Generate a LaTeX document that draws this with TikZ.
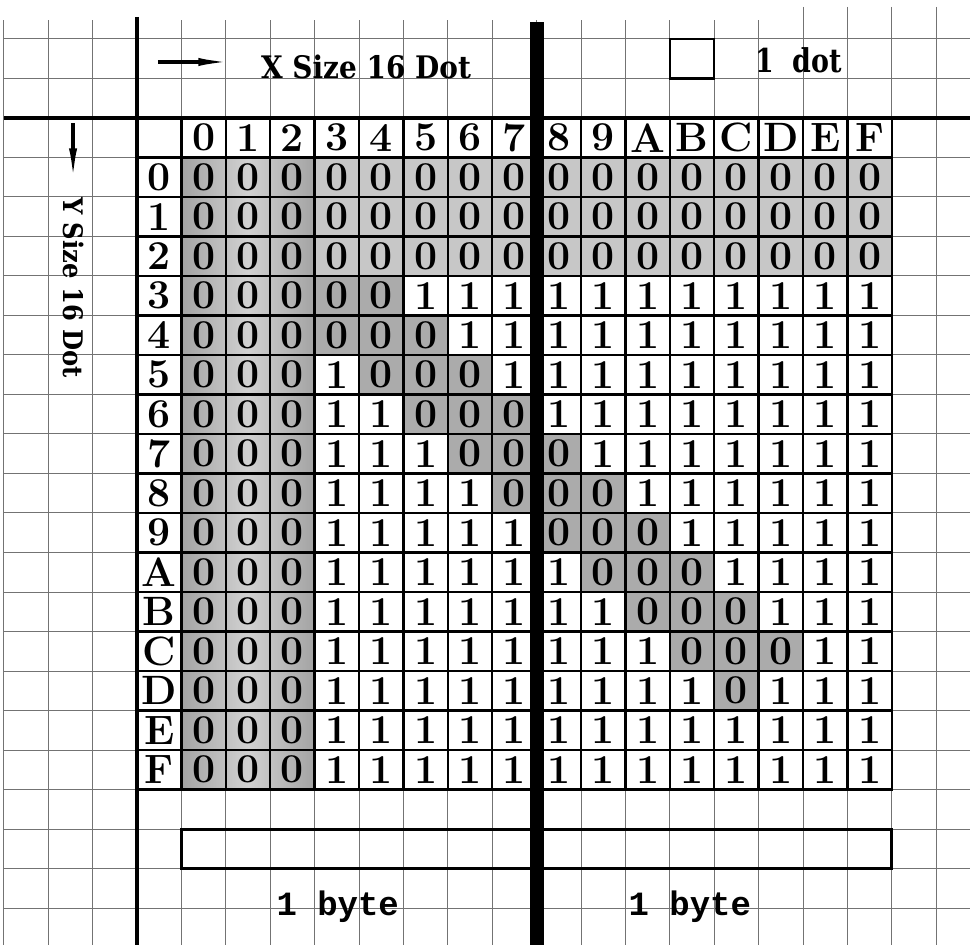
\documentclass[tikz,border=0pt]{standalone}
\usepackage{fontspec}
\usepackage{xcolor}
\usepackage{tikz}
\usetikzlibrary{arrows.meta}

\newfontfamily\slabfont[FakeStretch=0.9]{DejaVu Serif}
\newfontfamily\narrowslab[FakeStretch=0.82]{DejaVu Serif}
\newfontfamily\typefont{Liberation Mono}

\definecolor{gridgray}{gray}{0.45}
\definecolor{zerolight}{gray}{0.78}
\definecolor{zerodark}{gray}{0.67}
\definecolor{shadeedge}{gray}{0.64}
\definecolor{shademid}{gray}{0.82}

\begin{document}
\begin{tikzpicture}[
  x=1.332cm, y=-1.185cm,
  >={Latex[length=1.1cm,width=0.24cm]},
  gridline/.style={draw=gridgray, line width=0.03cm},
  axis/.style={line width=0.11cm},
  cell/.style={
    draw,
    line width=0.075cm,
    minimum width=1.332cm,
    minimum height=1.185cm,
    inner sep=0pt,
    font=\bfseries\fontsize{35}{35}\selectfont
  },
  sizetext/.style={font=\slabfont\bfseries\fontsize{26.5}{26.5}\selectfont},
  bytetext/.style={font=\typefont\bfseries\fontsize{29}{29}\selectfont, anchor=base west},
  pointer/.style={->, line width=0.11cm}
]
  \useasboundingbox (-3.0856,-2.987) rectangle (18.761,20.937);
  \fill[white] (-3.0856,-2.987) rectangle (18.761,20.937);

  \foreach \c in {-3,...,14} \draw[gridline] (\c,-2.48) -- (\c,20.937);
  \foreach \c in {15,...,18} \draw[gridline] (\c,-2.81) -- (\c,20.937);
  \foreach \r in {-2,-1,1,2,...,20} \draw[gridline] (-3,\r) -- (18.761,\r);

  \shade[left color=shadeedge, right color=shadeedge, middle color=shademid] (1,1) rectangle (4,17);

  \foreach \h [count=\c] in {0,1,2,3,4,5,6,7,8,9,A,B,C,D,E,F}
    \node[cell] (h\c) at (\c+0.5,0.5) {\h};
  \foreach \h [count=\r] in {0,1,2,3,4,5,6,7,8,9,A,B,C,D,E,F}
    \node[cell] (v\r) at (0.5,\r+0.5) {\h};

  \foreach \bits [count=\r] in {
    {0,0,0,0,0,0,0,0,0,0,0,0,0,0,0,0},
    {0,0,0,0,0,0,0,0,0,0,0,0,0,0,0,0},
    {0,0,0,0,0,0,0,0,0,0,0,0,0,0,0,0},
    {0,0,0,0,0,1,1,1,1,1,1,1,1,1,1,1},
    {0,0,0,0,0,0,1,1,1,1,1,1,1,1,1,1},
    {0,0,0,1,0,0,0,1,1,1,1,1,1,1,1,1},
    {0,0,0,1,1,0,0,0,1,1,1,1,1,1,1,1},
    {0,0,0,1,1,1,0,0,0,1,1,1,1,1,1,1},
    {0,0,0,1,1,1,1,0,0,0,1,1,1,1,1,1},
    {0,0,0,1,1,1,1,1,0,0,0,1,1,1,1,1},
    {0,0,0,1,1,1,1,1,1,0,0,0,1,1,1,1},
    {0,0,0,1,1,1,1,1,1,1,0,0,0,1,1,1},
    {0,0,0,1,1,1,1,1,1,1,1,0,0,0,1,1},
    {0,0,0,1,1,1,1,1,1,1,1,1,0,1,1,1},
    {0,0,0,1,1,1,1,1,1,1,1,1,1,1,1,1},
    {0,0,0,1,1,1,1,1,1,1,1,1,1,1,1,1}}{
    \foreach \b [count=\c] in \bits {
      \ifnum\b=0\relax
        \ifnum\c<4\relax \def\zfill{none}\else
          \ifnum\r<4\relax \def\zfill{zerolight}\else \def\zfill{zerodark}\fi
        \fi
      \else \def\zfill{none}\fi
      \node[cell, fill=\zfill] (d\r-\c) at (\c+0.5,\r+0.5) {\b};
    }
  }

  \node[draw, line width=0.09cm, minimum width=21.312cm, minimum height=1.185cm] (bytebox) at (9,18.5) {};
  \node[draw, line width=0.075cm, minimum width=1.332cm, minimum height=1.185cm, inner sep=0pt] (dotbox) at (12.5,-1.5) {};

  \draw[axis] (0,-2.557) -- (0,20.937);
  \draw[axis] (-3,0) -- (18.761,0);
  \draw[line width=0.42cm] (9,-2.43) -- (9,20.937);

  \node[sizetext, anchor=base west] (xsize) at (2.7,-1.01) {X Size 16 Dot};
  \node[sizetext, font=\slabfont\bfseries\fontsize{23}{23}\selectfont, rotate=-90] (ysize) at (-1.44,4.29) {Y Size 16 Dot};
  \coordinate (xfrom) at (0.47,-1.418);
  \coordinate (xto) at (2.207,-1.418);
  \coordinate (yfrom) at (-1.44,0.127);
  \coordinate (yto) at (-1.44,1.696);
  \draw[pointer] (xfrom) -- (xto);
  \draw[pointer] (yfrom) -- (yto);

  \node[anchor=base west, inner sep=0pt, font=\narrowslab\bfseries\fontsize{28}{28}\selectfont] (dotlabel) at (13.93,-1.14) {1\hspace{0.55em}dot};
  \node[bytetext] (leftbyte) at (3.05,20.2) {1 byte};
  \node[bytetext] (rightbyte) at (10.98,20.2) {1 byte};
\end{tikzpicture}
\end{document}
